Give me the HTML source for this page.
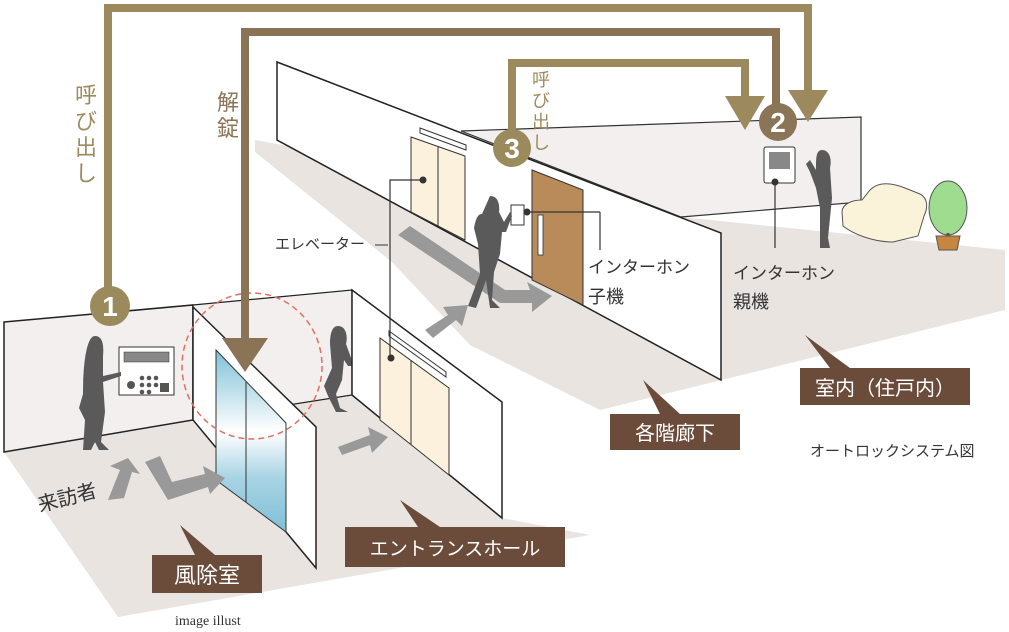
<!DOCTYPE html>
<html><head><meta charset="utf-8"><style>
html,body{margin:0;padding:0;background:#fff;width:1009px;height:632px;overflow:hidden}
svg text{font-family:"Liberation Sans","Noto Sans CJK JP",sans-serif}
svg text.serif{font-family:"Liberation Serif",serif}
</style></head><body>
<svg width="1009" height="632" viewBox="0 0 1009 632" xmlns="http://www.w3.org/2000/svg">
<defs>
<linearGradient id="gl" x1="0" y1="0" x2="0" y2="1">
<stop offset="0" stop-color="#7fc1d8"/><stop offset="0.45" stop-color="#ffffff"/><stop offset="0.7" stop-color="#a8d4e4"/><stop offset="1" stop-color="#7fbfd7"/></linearGradient>
</defs>
<polygon points="255,140 681,217 1005,250 1005,310 600,410 470,345 392,262 255,152" fill="#e9e4e0"/>
<polygon points="461,131 861,117 861,202 681,217" fill="#f2efee" stroke="#333" stroke-width="1.2"/>
<polygon points="277,62 721,233 721,380 277,140" fill="#fff" stroke="#222" stroke-width="1.5"/>
<polygon points="411,137 465,156 465,240 411,212" fill="#fbf1dc" stroke="#333" stroke-width="1"/>
<line x1="438" y1="146" x2="438" y2="226" stroke="#333"/>
<polygon points="420,128 466,145 466,150 420,133" fill="#fff" stroke="#333"/>
<polygon points="532,170 583,190 583,305 532,280" fill="#b98b5a" stroke="#333"/>
<rect x="538" y="215" width="5" height="40" fill="#fff" stroke="#333" stroke-width="0.8"/>
<rect x="511" y="205" width="13" height="20" fill="#fff" stroke="#333"/>
<line x1="524" y1="212" x2="600" y2="212" stroke="#333" stroke-width="1.2"/>
<line x1="600" y1="212" x2="600" y2="250" stroke="#333" stroke-width="1.2"/>
<circle cx="527" cy="212" r="3.5" fill="#333"/>
<polygon points="398,235 410,226 505,290 530,290 527,282 552,296 532,312 532,303 500,303" fill="#999"/>
<path d="M490,196 c8,0 10,8 9,16 l5,10 6,-10 2,4 -6,16 -4,0 -2,22 -6,18 -2,28 8,8 -10,0 -4,-28 -10,28 -8,-2 12,-32 -2,-30 -4,-16 c2,-10 4,-14 8,-14z" fill="#5a5a5a"/>
<rect x="764" y="147" width="31" height="36" rx="2" fill="#fff" stroke="#333"/>
<rect x="769" y="152" width="21" height="17" fill="#888"/>
<line x1="775" y1="182" x2="775" y2="248" stroke="#333" stroke-width="1.2"/>
<circle cx="775" cy="182" r="3.5" fill="#333"/>
<path d="M822,150 c8,0 10,10 8,18 l2,30 -4,40 2,10 -10,0 0,-40 -4,-20 -6,-16 -4,-8 4,-4 6,10 c0,-12 0,-20 6,-20z" fill="#5a5a5a"/>
<path d="M842,212 c0,-8 10,-12 20,-12 l8,-10 c8,-8 20,-8 35,-2 l15,6 c8,4 8,14 4,22 l-6,20 -25,6 c-20,0 -40,-8 -50,-16z" fill="#fbf3d9" stroke="#555"/>
<ellipse cx="948" cy="208" rx="19" ry="27" fill="#9fdc8f" stroke="#555"/>
<line x1="948" y1="233" x2="948" y2="238" stroke="#6b4c3b" stroke-width="3"/>
<path d="M936,236 l24,0 -3,14 -18,0z" fill="#c6863f" stroke="#555"/>
<polygon points="4,452 352,395 502,518 590,535 118,617" fill="#e9e4e0"/>
<polygon points="4,322 193,305 193,420 4,452" fill="#f2efee" stroke="#222" stroke-width="1.5"/>
<polygon points="193,305 352,290 352,395 193,420" fill="#f2efee" stroke="#222" stroke-width="1.2"/>
<path d="M338,326 c8,0 10,10 8,18 l8,22 -6,0 -4,-6 -2,20 -6,14 4,14 8,4 -12,0 -8,-16 -4,-10 8,-18 -2,-24 c0,-10 2,-18 8,-18z" fill="#5a5a5a"/>
<polygon points="338,447 370,435 368,427 388,437 372,453 370,445 342,455" fill="#999"/>
<polygon points="352,290 502,402 502,518 352,395" fill="#fff" stroke="#222" stroke-width="1.5"/>
<polygon points="380,338 449,388 449,475 380,420" fill="#fbf1dc" stroke="#333"/>
<line x1="411" y1="360" x2="411" y2="445" stroke="#333"/>
<polygon points="389,331 446,372 446,377 389,336" fill="#fff" stroke="#333"/>
<polygon points="425,330 448,315 443,307 468,305 462,326 456,320 433,338" fill="#999"/>
<polyline points="423,180 390,180 390,358" fill="none" stroke="#333" stroke-width="1.2"/>
<circle cx="423" cy="180" r="3.5" fill="#333"/><circle cx="391" cy="358" r="3.5" fill="#333"/>
<line x1="375" y1="245" x2="388" y2="245" stroke="#333"/>
<polygon points="193,307 316,427 316,568 193,420" fill="#fff" stroke="#222" stroke-width="1.5"/>
<polygon points="216,350 286,423 286,532 216,480" fill="url(#gl)" stroke="#333"/>
<line x1="246" y1="382" x2="246" y2="502" stroke="#333"/>
<rect x="119" y="347" width="55" height="48" fill="#fff" stroke="#333"/>
<rect x="124" y="352" width="45" height="10" fill="#888" stroke="#333" stroke-width="0.5"/>
<circle cx="131" cy="385" r="4" fill="#555"/>
<g fill="#555"><circle cx="142" cy="378" r="2.3"/><circle cx="149" cy="378" r="2.3"/><circle cx="156" cy="378" r="2.3"/><circle cx="142" cy="385" r="2.3"/><circle cx="149" cy="385" r="2.3"/><circle cx="156" cy="385" r="2.3"/><circle cx="142" cy="392" r="2.3"/><circle cx="149" cy="392" r="2.3"/></g>
<rect x="160" y="383" width="9" height="9" fill="#555"/>
<path d="M95,336 c8,0 9,10 8,20 l0,20 18,-4 0,4 -18,6 2,30 -4,30 8,8 -10,0 -4,-8 -4,8 -8,0 2,-30 -6,-12 4,-14 c0,-20 2,-58 12,-58z" fill="#5a5a5a"/>
<polygon points="108,500 120,470 110,466 128,458 140,474 132,472 124,498" fill="#999"/>
<polygon points="145,462 160,456 172,482 205,474 203,466 225,478 210,494 208,487 168,500" fill="#999"/>
<ellipse cx="252" cy="366" rx="70" ry="73" fill="none" stroke="#e07060" stroke-width="1.5" stroke-dasharray="6,4"/>
<polyline points="108,300 108,8 808,8 808,95" fill="none" stroke="#9c8a5e" stroke-width="8"/>
<polygon points="788,90 828,90 808,122" fill="#9c8a5e"/>
<polyline points="776,115 776,32 245,32 245,340" fill="none" stroke="#8b7355" stroke-width="8"/>
<polygon points="222,338 268,338 245,372" fill="#8b7355"/>
<polyline points="512,148 512,63 745,63 745,100" fill="none" stroke="#9c8a5e" stroke-width="8"/>
<polygon points="725,96 765,96 745,130" fill="#9c8a5e"/>
<circle cx="110" cy="306" r="20" fill="#9a8a5c"/><text x="110" y="316" font-size="28" font-weight="bold" fill="#fff" text-anchor="middle">1</text>
<circle cx="778" cy="122" r="19" fill="#8a7556"/><text x="778" y="132" font-size="28" font-weight="bold" fill="#fff" text-anchor="middle">2</text>
<circle cx="512" cy="148" r="19" fill="#9a8a5c"/><text x="512" y="158" font-size="28" font-weight="bold" fill="#fff" text-anchor="middle">3</text>
<g font-size="22" fill="#9c8a5e" text-anchor="middle"><text x="86" y="103">呼</text><text x="86" y="129">び</text><text x="86" y="155">出</text><text x="86" y="181">し</text></g>
<g font-size="22" fill="#8b7355" text-anchor="middle"><text x="228" y="110">解</text><text x="228" y="136">錠</text></g>
<g font-size="18" fill="#9c8a5e" text-anchor="middle"><text x="541" y="86">呼</text><text x="541" y="107">び</text><text x="541" y="128">出</text><text x="541" y="149">し</text></g>
<g fill="#333">
<text x="275" y="249" font-size="15">エレベーター</text>
<text x="588" y="273" font-size="17">インターホン</text><text x="588" y="303" font-size="18">子機</text>
<text x="733" y="279" font-size="17">インターホン</text><text x="733" y="308" font-size="18">親機</text>
<text x="40" y="512" font-size="20" transform="rotate(-15 40 512)">来訪者</text>
<text x="810" y="456" font-size="15">オートロックシステム図</text>
<text class="serif" x="175" y="625" font-size="14">image illust</text>
</g>
<g fill="#6b4c3b">
<polygon points="180,525 215,555 195,555"/><rect x="152" y="555" width="110" height="38"/>
<polygon points="400,500 440,527 418,527"/><rect x="345" y="527" width="220" height="40"/>
<polygon points="643,380 680,414 660,414"/><rect x="610" y="414" width="130" height="36"/>
<polygon points="805,335 850,368 830,368"/><rect x="800" y="368" width="170" height="37"/>
</g>
<g fill="#fff" text-anchor="middle">
<text x="207" y="583" font-size="22">風除室</text>
<text x="455" y="555" font-size="19">エントランスホール</text>
<text x="675" y="440" font-size="20">各階廊下</text>
<text x="885" y="395" font-size="20">室内（住戸内）</text>
</g>
</svg>
</body></html>
